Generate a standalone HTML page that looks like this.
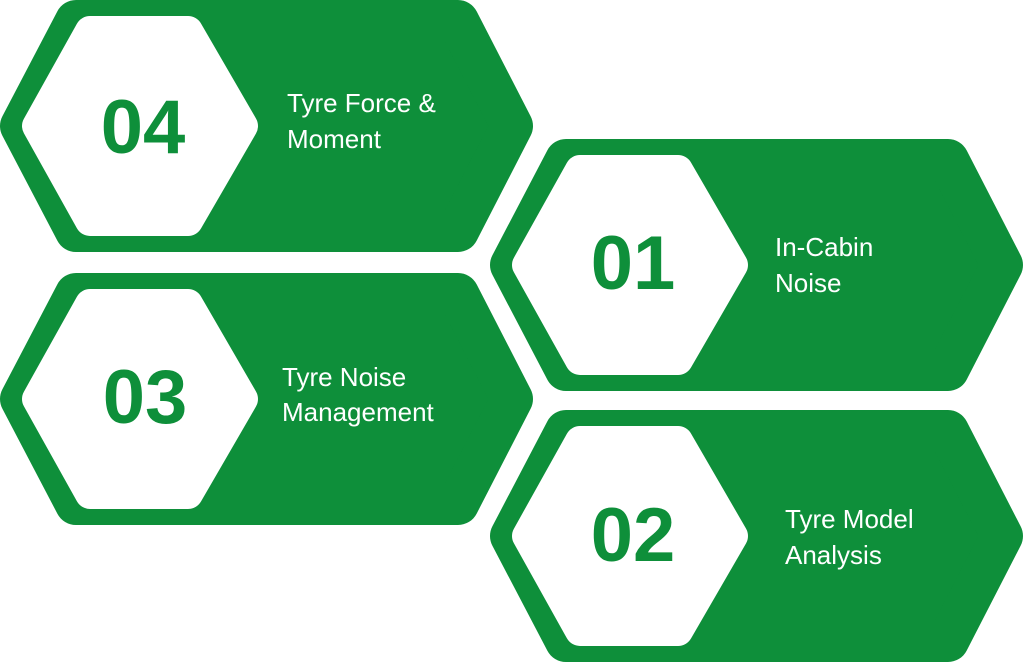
<!DOCTYPE html>
<html><head><meta charset="utf-8"><style>
html,body{margin:0;padding:0;background:#fff;width:1024px;height:664px;overflow:hidden}
svg{display:block}
.num{font-family:"Liberation Sans",sans-serif;font-weight:bold;font-size:76px;fill:#0e8f3a;text-anchor:middle}
.lab{font-family:"Liberation Sans",sans-serif;font-size:26px;fill:#fff}
</style></head><body>
<svg width="1024" height="664" viewBox="0 0 1024 664">
<defs>
<g id="hex">
<polygon points="21,126 76,21 458,21 512,126 458,231 76,231" fill="#0e8f3a" stroke="#0e8f3a" stroke-width="42" stroke-linejoin="round"/>
<polygon points="37,126 90,31 188,31 243,126 188,221 90,221" fill="#fff" stroke="#fff" stroke-width="30" stroke-linejoin="round"/>
</g>
</defs>
<use href="#hex" x="0" y="0"/>
<use href="#hex" x="490" y="139"/>
<use href="#hex" x="0" y="273"/>
<use href="#hex" x="490" y="410"/>

<text class="num" x="143" y="153">04</text>
<text class="lab" x="287" y="112">Tyre Force &amp;</text>
<text class="lab" x="287" y="148">Moment</text>

<text class="num" x="633" y="289">01</text>
<text class="lab" x="775" y="256">In-Cabin</text>
<text class="lab" x="775" y="292">Noise</text>

<text class="num" x="145" y="423">03</text>
<text class="lab" x="282" y="386">Tyre Noise</text>
<text class="lab" x="282" y="421">Management</text>

<text class="num" x="633" y="561">02</text>
<text class="lab" x="785" y="528">Tyre Model</text>
<text class="lab" x="785" y="564">Analysis</text>
</svg>
</body></html>
